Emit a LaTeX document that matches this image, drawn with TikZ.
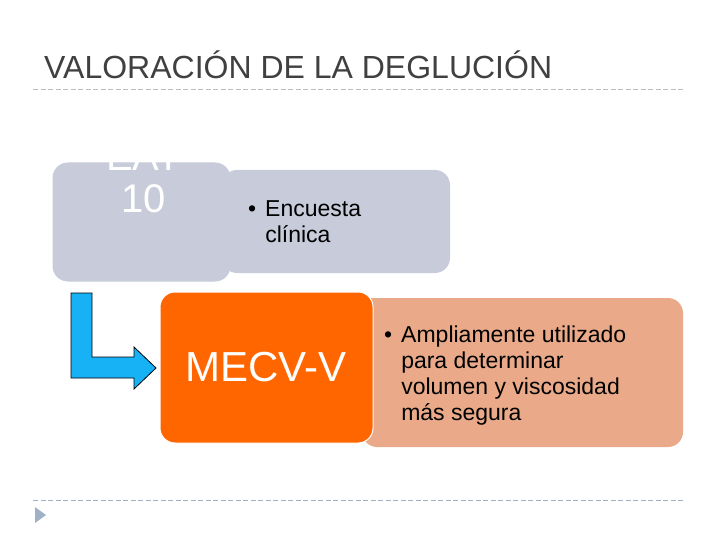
\documentclass[tikz,border=0pt]{standalone}
\usepackage{fontspec}
\setmainfont{Liberation Sans}
\usepackage{color}

\definecolor{titlegray}{RGB}{64,64,64}
\definecolor{rulegray}{RGB}{190,190,190}
\definecolor{rulblue}{RGB}{160,176,198}
\definecolor{boxgray}{RGB}{200,204,218}
\definecolor{mecvorange}{RGB}{255,102,0}
\definecolor{mecvsalmon}{RGB}{234,170,137}
\definecolor{arrowblue}{RGB}{22,178,245}

\newcommand{\bulitem}[1]{\begin{tabular}[t]{@{}l@{\hspace{9pt}}l@{}}\textbullet & #1\end{tabular}}

\begin{document}
\begin{tikzpicture}[x=1pt,y=-1pt]
\tikzstyle{every node}+=[inner sep=0pt]
\tikzstyle{dashrule}=[line width=1pt, dash pattern=on 5pt off 2.5pt]
\tikzstyle{headbox}=[draw=white, line width=1pt, rounded corners=15pt]
\tikzstyle{textbox}=[rounded corners=15pt]
\tikzstyle{bodytext}=[font=\fontsize{23}{26}\selectfont, text=black]
\useasboundingbox (0,0) rectangle (720,540);
% title
\node [anchor=base west, font=\fontsize{32}{38}\selectfont, text=titlegray] (title) at (44,79) {VALORACIÓN DE LA DEGLUCIÓN};
\draw [dashrule, rulegray] (33,90) -- (685,90);
% EAT 10
\fill [textbox, boxgray] (222,170) -- (450,170) -- (450,273) -- (222,273) -- cycle;
\node [bodytext, anchor=base west] (encuesta) at (248,217) {\bulitem{Encuesta\\ & clínica}};
\fill [headbox, boxgray] (53,163) rectangle (230,281);
\node [font=\fontsize{40}{43}\selectfont, text=white, align=center, anchor=base] (eat) at (143.5,213) {EAT\\10};
% MECV-V
\fill [mecvsalmon, rounded corners=15pt] (362,298) -- (683,298) -- (683,447) -- (362,447) [sharp corners] -- cycle;
\node [bodytext, anchor=base west] (mecvtext) at (384,342) {\bulitem{Ampliamente utilizado\\ & para determinar\\ & volumen y viscosidad\\ & más segura}};
\filldraw [headbox, fill=mecvorange] (160,292) rectangle (373,443);
\node [font=\fontsize{42}{48}\selectfont, text=white, anchor=base] (mecv) at (266,381) {MECV-V};
% bent arrow
\filldraw [fill=arrowblue, draw=black, line width=0.8pt] (71,293) -- (92,293) -- (92,357) -- (134,357) -- (134,347) -- (156,368) -- (134,389) -- (134,378) -- (71,378) -- cycle;
% footer
\draw [dashrule, rulblue] (33,500) -- (685,500);
\fill [rulblue] (35,507) -- (46,515) -- (35,523) -- cycle;
\end{tikzpicture}
\end{document}
